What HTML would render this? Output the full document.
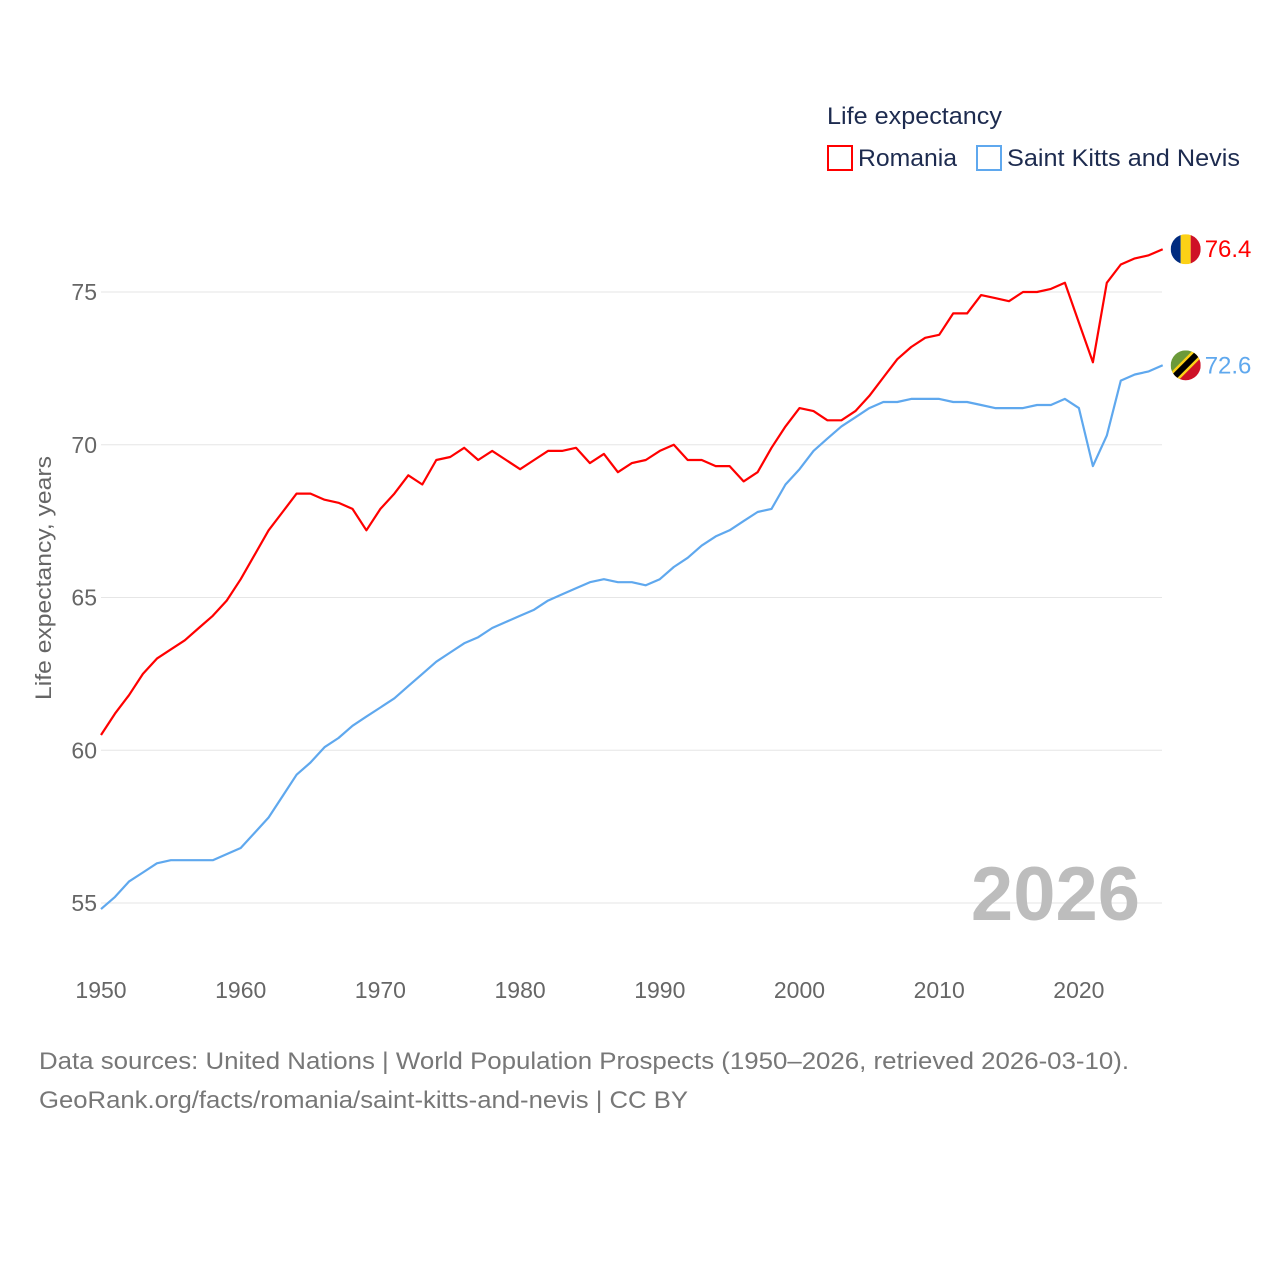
<!DOCTYPE html>
<html><head><meta charset="utf-8">
<style>
html,body{margin:0;padding:0;background:#fff;}
body{width:1280px;height:1280px;overflow:hidden;font-family:"Liberation Sans",sans-serif;}
</style></head>
<body>
<svg id="chart" width="1280" height="1280" xmlns="http://www.w3.org/2000/svg" style="font-family:'Liberation Sans',sans-serif">
  <text x="827" y="124" font-size="24" fill="#1d2b4f" textLength="175" lengthAdjust="spacingAndGlyphs">Life expectancy</text>
  <g>
    <rect x="828" y="146" width="24" height="24" fill="none" stroke="#ff0000" stroke-width="2"/>
    <text x="858" y="166" font-size="24" fill="#1d2b4f" textLength="99" lengthAdjust="spacingAndGlyphs">Romania</text>
  </g>
  <g>
    <rect x="977" y="146" width="24" height="24" fill="none" stroke="#5fa8ee" stroke-width="2"/>
    <text x="1007" y="166" font-size="24" fill="#1d2b4f" textLength="233" lengthAdjust="spacingAndGlyphs">Saint Kitts and Nevis</text>
  </g>
  <g id="grid"></g>
  <g id="yticks"></g>
  <g id="xticks"></g>
  <text transform="translate(51,578) rotate(-90)" text-anchor="middle" font-size="22" fill="#666" textLength="244" lengthAdjust="spacingAndGlyphs">Life expectancy, years</text>
  <text x="1140" y="920" text-anchor="end" font-size="76" font-weight="bold" fill="#bdbdbd">2026</text>
  <g id="series"></g>
  <g font-size="24" fill="#777">
    <text x="39" y="1069" textLength="1090" lengthAdjust="spacingAndGlyphs">Data sources: United Nations | World Population Prospects (1950–2026, retrieved 2026-03-10).</text>
    <text x="39" y="1108" textLength="649" lengthAdjust="spacingAndGlyphs">GeoRank.org/facts/romania/saint-kitts-and-nevis | CC BY</text>
  </g>
</svg>
<script>
const years = [];
for (let y = 1950; y <= 2026; y++) years.push(y);
const romania = [60.5,61.2,61.8,62.5,63.0,63.3,63.6,64.0,64.4,64.9,65.6,66.4,67.2,67.8,68.4,68.4,68.2,68.1,67.9,67.2,67.9,68.4,69.0,68.7,69.5,69.6,69.9,69.5,69.8,69.5,69.2,69.5,69.8,69.8,69.9,69.4,69.7,69.1,69.4,69.5,69.8,70.0,69.5,69.5,69.3,69.3,68.8,69.1,69.9,70.6,71.2,71.1,70.8,70.8,71.1,71.6,72.2,72.8,73.2,73.5,73.6,74.3,74.3,74.9,74.8,74.7,75.0,75.0,75.1,75.3,74.0,72.7,75.3,75.9,76.1,76.2,76.4];
const skn = [54.8,55.2,55.7,56.0,56.3,56.4,56.4,56.4,56.4,56.6,56.8,57.3,57.8,58.5,59.2,59.6,60.1,60.4,60.8,61.1,61.4,61.7,62.1,62.5,62.9,63.2,63.5,63.7,64.0,64.2,64.4,64.6,64.9,65.1,65.3,65.5,65.6,65.5,65.5,65.4,65.6,66.0,66.3,66.7,67.0,67.2,67.5,67.8,67.9,68.7,69.2,69.8,70.2,70.6,70.9,71.2,71.4,71.4,71.5,71.5,71.5,71.4,71.4,71.3,71.2,71.2,71.2,71.3,71.3,71.5,71.2,69.3,70.3,72.1,72.3,72.4,72.6];
const yTicks = [55,60,65,70,75];
const xTicks = [1950,1960,1970,1980,1990,2000,2010,2020];

const X0 = 101, X1 = 1162.7, Y0 = 1950, Y1 = 2026;
const x = v => X0 + (v - Y0) / (Y1 - Y0) * (X1 - X0);
const y = v => 292 + (75 - v) * 30.55;
const NS = "http://www.w3.org/2000/svg";
function mk(tag, attrs, parent) { const e = document.createElementNS(NS, tag); for (const k in attrs) e.setAttribute(k, attrs[k]); parent.appendChild(e); return e; }
const grid = document.getElementById('grid'), yt = document.getElementById('yticks'), xt = document.getElementById('xticks'), ser = document.getElementById('series');
yTicks.forEach(v => {
  const l = mk('line', {x1: 101, x2: 1162, y1: y(v), y2: y(v), stroke: '#e6e6e6', 'stroke-width': 1}, grid);
  
  
  const t = mk('text', {x: 97, y: y(v) + 8, 'text-anchor': 'end', 'font-size': 23, fill: '#666'}, yt);
  t.textContent = v;
  
  
});
xTicks.forEach(v => {
  const t = mk('text', {x: x(v), y: 998, 'text-anchor': 'middle', 'font-size': 23, fill: '#666'}, xt);
  t.textContent = v;
  
  
});
function line(data, color, name) {
  const d = data.map((v, i) => (i ? 'L' : 'M') + x(years[i]).toFixed(1) + ',' + y(v).toFixed(1)).join('');
  const p = mk('path', {d: d, fill: 'none', stroke: color, 'stroke-width': 2.2, 'stroke-linejoin': 'round'}, ser);
  
  
  const last = data[data.length - 1];
  const cx = x(years[years.length - 1]) + 23, cy = y(last);
  const g = mk('g', {}, ser);
  
  
  const cid = 'c-' + name;
  const cp = mk('clipPath', {id: cid}, g);
  mk('circle', {cx: cx, cy: cy, r: 15}, cp);
  const clip = 'url(#' + cid + ')';
  if (name === 'romania') {
    mk('rect', {x: cx - 15, y: cy - 15, width: 10, height: 30, fill: '#002b7f', 'clip-path': clip}, g);
    mk('rect', {x: cx - 5, y: cy - 15, width: 10, height: 30, fill: '#fcd116', 'clip-path': clip}, g);
    mk('rect', {x: cx + 5, y: cy - 15, width: 10, height: 30, fill: '#ce1126', 'clip-path': clip}, g);
  } else {
    mk('path', {d: `M${cx-15},${cy-15}L${cx+15},${cy-15}L${cx-15},${cy+15}Z`, fill: '#6b9a3a', 'clip-path': clip}, g);
    mk('path', {d: `M${cx+15},${cy+15}L${cx+15},${cy-15}L${cx-15},${cy+15}Z`, fill: '#ce1126', 'clip-path': clip}, g);
    mk('line', {x1: cx - 15, y1: cy + 15, x2: cx + 15, y2: cy - 15, stroke: '#fcd116', 'stroke-width': 11, 'clip-path': clip}, g);
    mk('line', {x1: cx - 15, y1: cy + 15, x2: cx + 15, y2: cy - 15, stroke: '#000', 'stroke-width': 6, 'clip-path': clip}, g);
  }
  const t = mk('text', {x: cx + 19, y: cy + 8, 'font-size': 24, fill: color}, ser);
  t.textContent = last.toFixed(1);
  
  
}
line(skn, '#5fa8ee', 'saint-kitts-and-nevis');
line(romania, '#ff0000', 'romania');
</script>
</body></html>
